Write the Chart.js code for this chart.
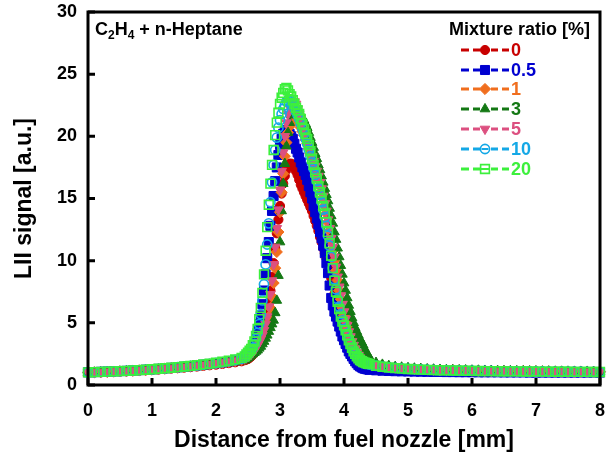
<!DOCTYPE html>
<html><head><meta charset="utf-8">
<script src="https://cdn.jsdelivr.net/npm/chart.js@4.4.0/dist/chart.umd.min.js"></script>
<style>html,body{margin:0;padding:0;background:#fff}#wrap{width:608px;height:457px}</style>
</head><body><div id="wrap"><canvas id="c" width="608" height="457"></canvas></div>
<script>
// Distance from fuel nozzle [mm]
const distanceMm = [
 0,0.1,0.2,0.3,0.4,0.5,0.6,0.7,0.8,0.9,1.0,1.1,1.2,1.3,1.4,1.5,1.6,1.7,1.8,1.9,2.0,2.1,2.2,2.3,2.4,
 2.45,2.475,
 2.5,2.525,2.55,2.575, 2.6,2.625,2.65,2.675, 2.7,2.725,2.75,2.775, 2.8,2.825,2.85,2.875, 2.9,2.925,2.95,2.975,
 3.0,3.025,3.05,3.075, 3.1,3.125,3.15,3.175, 3.2,3.225,3.25,3.275, 3.3,3.325,3.35,3.375, 3.4,3.425,3.45,3.475,
 3.5,3.525,3.55,3.575, 3.6,3.625,3.65,3.675, 3.7,3.725,3.75,3.775, 3.8,3.825,3.85,3.875, 3.9,3.925,3.95,3.975,
 4.0,4.025,4.05,4.075, 4.1,4.125,4.15,4.175, 4.2,4.225,4.25,4.275, 4.3,4.325,4.35,4.375,
 4.4,
 4.5,4.6,4.7,4.8,4.9,5.0,5.1,5.2,5.3,5.4,5.5,5.6,5.7,5.8,5.9,6.0,6.1,6.2,6.3,6.4,6.5,6.6,6.7,6.8,6.9,7.0,7.1,7.2,7.3,7.4,7.5,7.6,7.7,7.8,7.9,8.0];

const mixtureLabels = ["0","0.5","1","3","5","10","20"];

const lii_0 = [
 0.99,1.01,1.02,1.04,1.06,1.08,1.1,1.12,1.15,1.18,1.21,1.24,1.28,1.32,1.36,1.4,1.44,1.49,1.54,1.59,1.64,1.7,1.76,1.83,1.91,
 2.0,2.05,
 2.1,2.2,2.3,2.45, 2.6,2.8,3.0,3.3, 3.6,4.0,4.5,5.1, 5.8,6.6,7.6,8.7, 9.8,11.0,12.2,13.3,
 14.4,15.4,16.2,16.8, 17.3,17.6,17.8,17.8, 17.7,17.5,17.2,16.9, 16.5,16.1,15.8,15.5, 15.2,14.9,14.6,14.3,
 14.0,13.6,13.2,12.8, 12.4,11.9,11.5,11.0, 10.6,10.2,9.7,9.2, 8.6,8.0,7.3,6.6, 6.0,5.4,4.8,4.3,
 3.9,3.5,3.1,2.8, 2.5,2.3,2.1,1.95, 1.85,1.77,1.7,1.65, 1.6,1.57,1.55,1.52,
 1.5,
 1.42,1.38,1.35,1.32,1.3,1.28,1.26,1.24,1.22,1.21,1.2,1.19,1.18,1.17,1.16,1.15,1.14,1.13,1.13,1.12,1.12,1.11,1.11,1.1,1.1,1.09,1.09,1.08,1.08,1.08,1.07,1.07,1.07,1.06,1.06,1.06];
const lii_05 = [
 1.02,1.04,1.06,1.08,1.1,1.12,1.14,1.17,1.2,1.23,1.26,1.3,1.34,1.38,1.42,1.47,1.52,1.57,1.63,1.69,1.75,1.82,1.9,1.99,2.09,
 2.2,2.3,
 2.4,2.55,2.7,2.95, 3.2,3.7,4.2,4.9, 5.6,6.5,7.6,8.9, 10.2,11.5,12.8,14.0, 15.2,16.4,17.5,18.5,
 19.3,19.8,20.2,20.4, 20.5,20.4,20.2,20.0, 19.8,19.4,19.0,18.7, 18.3,17.9,17.5,17.2, 16.9,16.5,16.0,15.5,
 15.0,14.4,13.9,13.4, 12.9,12.3,11.8,11.2, 10.6,9.8,9.0,8.0, 7.0,6.4,5.9,5.5, 5.1,4.7,4.3,3.9,
 3.6,3.3,3.0,2.7, 2.5,2.3,2.1,1.9, 1.75,1.6,1.5,1.42, 1.35,1.31,1.28,1.25,
 1.22,
 1.18,1.15,1.13,1.11,1.1,1.09,1.08,1.07,1.06,1.05,1.05,1.04,1.04,1.03,1.03,1.03,1.02,1.02,1.02,1.02,1.01,1.01,1.01,1.01,1.0,1.0,1.0,1.0,1.0,1.0,1.0,1.0,1.0,1.0,1.0,1.0];
const lii_1 = [
 1.0,1.02,1.04,1.06,1.08,1.1,1.12,1.15,1.18,1.21,1.24,1.28,1.32,1.36,1.4,1.45,1.5,1.55,1.6,1.66,1.72,1.78,1.85,1.93,2.02,
 2.1,2.2,
 2.3,2.4,2.5,2.65, 2.8,2.95,3.1,3.3, 3.5,3.8,4.1,4.5, 4.9,5.5,6.2,7.1, 8.2,9.4,10.7,12.3,
 13.9,15.5,17.0,18.4, 19.5,20.3,20.8,21.1, 21.3,21.4,21.4,21.2, 21.0,20.7,20.4,20.1, 19.7,19.4,19.0,18.6,
 18.2,17.8,17.4,17.0, 16.5,16.0,15.5,15.0, 14.4,13.8,13.1,12.4, 11.6,10.8,10.0,9.2, 8.4,7.6,6.9,6.2,
 5.6,5.1,4.6,4.2, 3.8,3.4,3.1,2.8, 2.6,2.4,2.2,2.05, 1.95,1.87,1.8,1.75,
 1.7,
 1.58,1.5,1.44,1.39,1.35,1.32,1.29,1.27,1.25,1.23,1.21,1.2,1.19,1.18,1.17,1.16,1.15,1.14,1.13,1.13,1.12,1.12,1.11,1.11,1.1,1.1,1.09,1.09,1.08,1.08,1.08,1.07,1.07,1.07,1.06,1.06];
const lii_3 = [
 0.99,1.01,1.03,1.05,1.07,1.09,1.11,1.13,1.16,1.19,1.22,1.25,1.29,1.33,1.37,1.41,1.45,1.5,1.55,1.6,1.66,1.72,1.78,1.85,1.93,
 2.0,2.1,
 2.2,2.3,2.4,2.5, 2.6,2.7,2.8,2.95, 3.1,3.3,3.5,3.75, 4.0,4.3,4.6,4.9, 5.2,5.8,6.8,8.8,
 11.5,14.0,16.2,17.8, 19.2,20.3,21.1,21.7, 22.0,22.2,22.3,22.2, 22.0,21.8,21.5,21.3, 21.0,20.7,20.3,19.9,
 19.5,19.1,18.6,18.2, 17.7,17.3,16.8,16.3, 15.8,15.3,14.8,14.2, 13.6,13.0,12.3,11.7, 11.0,10.3,9.6,8.9,
 8.2,7.6,7.0,6.4, 5.9,5.4,5.0,4.6, 4.3,4.0,3.7,3.45, 3.2,2.9,2.6,2.4,
 2.2,
 1.8,1.65,1.55,1.47,1.42,1.38,1.34,1.31,1.28,1.26,1.24,1.22,1.21,1.2,1.19,1.18,1.17,1.16,1.15,1.14,1.13,1.13,1.12,1.12,1.11,1.11,1.1,1.1,1.09,1.09,1.09,1.08,1.08,1.08,1.07,1.07];
const lii_5 = [
 1.01,1.03,1.05,1.07,1.09,1.11,1.13,1.16,1.19,1.22,1.25,1.29,1.33,1.37,1.41,1.46,1.51,1.56,1.62,1.68,1.74,1.81,1.88,1.96,2.05,
 2.15,2.2,
 2.3,2.4,2.5,2.65, 2.8,3.0,3.2,3.45, 3.7,4.0,4.4,4.9, 5.5,6.3,7.3,8.4, 9.7,11.1,12.6,14.1,
 15.7,17.2,18.7,20.0, 21.1,21.8,22.3,22.6, 22.8,22.8,22.6,22.2, 21.8,21.4,21.0,20.5, 20.1,19.6,19.2,18.8,
 18.4,18.0,17.6,17.2, 16.8,16.3,15.8,15.2, 14.6,14.0,13.3,12.6, 11.8,11.1,10.3,9.5, 8.7,7.9,7.2,6.5,
 5.9,5.3,4.8,4.3, 3.9,3.5,3.2,2.9, 2.6,2.4,2.2,2.05, 1.95,1.87,1.8,1.75,
 1.7,
 1.6,1.52,1.46,1.41,1.37,1.33,1.3,1.28,1.26,1.24,1.22,1.21,1.2,1.19,1.18,1.17,1.16,1.15,1.14,1.13,1.13,1.12,1.12,1.11,1.11,1.1,1.1,1.09,1.09,1.09,1.08,1.08,1.08,1.07,1.07,1.07];
const lii_10 = [
 1.02,1.04,1.06,1.08,1.1,1.12,1.14,1.17,1.2,1.23,1.26,1.3,1.34,1.38,1.43,1.48,1.53,1.58,1.64,1.7,1.77,1.84,1.92,2.01,2.12,
 2.25,2.35,
 2.5,2.65,2.8,3.0, 3.3,3.7,4.2,4.9, 5.7,6.8,8.1,9.7, 11.3,13.0,14.7,16.3, 17.7,18.9,19.9,20.7,
 21.3,21.8,22.2,22.5, 22.8,22.9,23.0,22.8, 22.6,22.3,22.0,21.7, 21.4,21.0,20.6,20.2, 19.8,19.4,18.9,18.4,
 17.9,17.4,16.9,16.4, 15.8,15.3,14.7,14.1, 13.5,12.8,12.0,11.2, 10.3,9.4,8.5,7.7, 6.9,6.3,5.7,5.2,
 4.8,4.4,4.0,3.6, 3.3,3.0,2.7,2.5, 2.3,2.15,2.0,1.92, 1.85,1.8,1.75,1.7,
 1.65,
 1.55,1.47,1.41,1.37,1.33,1.3,1.27,1.25,1.23,1.21,1.2,1.19,1.18,1.17,1.16,1.15,1.14,1.13,1.13,1.12,1.12,1.11,1.11,1.1,1.1,1.09,1.09,1.08,1.08,1.08,1.07,1.07,1.07,1.06,1.06,1.06];
const lii_20 = [
 1.02,1.04,1.06,1.08,1.1,1.12,1.14,1.17,1.2,1.23,1.27,1.31,1.35,1.39,1.44,1.49,1.54,1.6,1.66,1.72,1.8,1.88,1.96,2.06,2.18,
 2.3,2.45,
 2.6,2.75,2.9,3.2, 3.5,3.95,4.5,5.3, 6.2,7.4,8.9,10.8, 12.7,14.5,16.2,17.7, 18.9,20.1,21.1,21.9,
 22.6,23.1,23.5,23.8, 23.9,23.7,23.4,23.2, 22.9,22.6,22.3,22.1, 21.8,21.4,21.0,20.6, 20.2,19.8,19.3,18.8,
 18.2,17.7,17.1,16.6, 16.0,15.5,15.0,14.4, 13.8,13.1,12.3,11.4, 10.4,9.4,8.4,7.5, 6.7,6.1,5.5,5.1,
 4.8,4.4,4.0,3.6, 3.3,3.0,2.7,2.5, 2.3,2.15,2.0,1.92, 1.85,1.8,1.75,1.71,
 1.68,
 1.55,1.47,1.41,1.36,1.32,1.29,1.26,1.24,1.22,1.2,1.19,1.18,1.17,1.16,1.15,1.14,1.13,1.12,1.12,1.11,1.11,1.1,1.1,1.09,1.09,1.08,1.08,1.08,1.07,1.07,1.07,1.06,1.06,1.06,1.05,1.05];

const xTicks = [0,1,2,3,4,5,6,7,8];
const yTicks = [0,5,10,15,20,25,30];

const FONT = "'Liberation Sans', Arial, sans-serif";
Chart.defaults.font.family = FONT;
Chart.defaults.font.weight = 'bold';
Chart.defaults.color = '#000';

const styles = [
 {color:'#c80000', fill:'#c80000', style:'circle', r:4.6, rot:0, bw:1},
 {color:'#0000d0', fill:'#0000d0', style:'rect', r:6.4, rot:0, bw:1},
 {color:'#f06e1e', fill:'#f06e1e', style:'rectRot', r:5.6, rot:0, bw:1},
 {color:'#147814', fill:'#147814', style:'triangle', r:5.6, rot:0, bw:1},
 {color:'#dc5080', fill:'#dc5080', style:'triangle', r:5.6, rot:180, bw:1},
 {color:'#14a8e6', fill:'rgba(0,0,0,0)', style:'circle', r:4.6, rot:0, bw:1.6},
 {color:'#3cf03c', fill:'rgba(0,0,0,0)', style:'rect', r:6.2, rot:0, bw:1.6}
];
const seriesValues = [lii_0, lii_05, lii_1, lii_3, lii_5, lii_10, lii_20];

const datasets = seriesValues.map((vals, k) => ({
  label: mixtureLabels[k],
  data: distanceMm.map((x, i) => ({x: x, y: vals[i]})),
  showLine: false,
  pointStyle: styles[k].style,
  pointRadius: styles[k].r,
  pointRotation: styles[k].rot,
  pointBackgroundColor: styles[k].fill,
  pointBorderColor: styles[k].color,
  pointBorderWidth: styles[k].bw,
  borderColor: styles[k].color,
  backgroundColor: styles[k].fill,
  order: 6 - k,
  clip: false
}));

function markerPath(ctx, style, x, y, r, rot) {
  ctx.beginPath();
  if (style === 'circle') {
    ctx.arc(x, y, r, 0, Math.PI * 2);
  } else if (style === 'rect') {
    const s = Math.SQRT1_2 * r;
    ctx.rect(x - s, y - s, 2 * s, 2 * s);
  } else if (style === 'rectRot') {
    ctx.moveTo(x, y - r); ctx.lineTo(x + r, y); ctx.lineTo(x, y + r); ctx.lineTo(x - r, y); ctx.closePath();
  } else if (style === 'triangle') {
    const sgn = rot === 180 ? -1 : 1;
    ctx.moveTo(x, y - sgn * r);
    ctx.lineTo(x + 0.866 * r, y + sgn * 0.5 * r);
    ctx.lineTo(x - 0.866 * r, y + sgn * 0.5 * r);
    ctx.closePath();
  }
}

function drawFrame(chart) {
  const ctx = chart.ctx;
  const a = chart.chartArea;
  const sx = chart.scales.x, sy = chart.scales.y;
  ctx.save();
  ctx.setLineDash([]);
  ctx.strokeStyle = '#000000';
  ctx.lineWidth = 3;
  ctx.beginPath();
  ctx.moveTo(a.left, a.top); ctx.lineTo(a.right, a.top); ctx.lineTo(a.right, a.bottom);
  ctx.lineTo(a.left, a.bottom); ctx.closePath();
  ctx.stroke();
  ctx.beginPath();
  xTicks.forEach(v => {
    const px = sx.getPixelForValue(v);
    ctx.moveTo(px, a.bottom); ctx.lineTo(px, a.bottom - 7);
  });
  yTicks.forEach(v => {
    const py = sy.getPixelForValue(v);
    ctx.moveTo(a.left, py); ctx.lineTo(a.left + 7, py);
  });
  ctx.stroke();
  ctx.restore();
}

const framePlugin = {
  id: 'liiFrame',
  afterDraw(chart) {
    drawFrame(chart);
    const ctx = chart.ctx;
    ctx.save();
    ctx.fillStyle = '#000';
    ctx.textBaseline = 'alphabetic';
    ctx.textAlign = 'left';
    const big = "bold 18px " + FONT, small = "bold 12px " + FONT;
    let x = 95; const base = 35;
    const parts = [["C", big, 0], ["2", small, 4], ["H", big, 0], ["4", small, 4], [" + n-Heptane", big, 0]];
    parts.forEach(p => { ctx.font = p[1]; ctx.fillText(p[0], x, base + p[2]); x += ctx.measureText(p[0]).width; });
    ctx.font = "bold 18px " + FONT;
    ctx.textAlign = 'right';
    ctx.textBaseline = 'middle';
    ctx.fillText("Mixture ratio [%]", 590, 30);
    const rowsY = [50, 70, 89, 109, 129, 149, 169];
    const dashes = [[461, 469], [473, 480], [491, 498], [502, 509]];
    styles.forEach((s, k) => {
      const y = rowsY[k];
      ctx.strokeStyle = s.color;
      ctx.lineWidth = 3;
      ctx.beginPath();
      dashes.forEach(d => { ctx.moveTo(d[0], y); ctx.lineTo(d[1], y); });
      ctx.stroke();
      markerPath(ctx, s.style, 485, y, s.r, s.rot);
      const hollow = s.fill === 'rgba(0,0,0,0)';
      ctx.fillStyle = hollow ? '#fff' : s.fill;
      ctx.fill();
      ctx.lineWidth = s.bw; ctx.strokeStyle = s.color; ctx.stroke();
      if (hollow) { ctx.lineWidth = 2; ctx.beginPath(); ctx.moveTo(485 - s.r * 0.75, y); ctx.lineTo(485 + s.r * 0.75, y); ctx.stroke(); }
      ctx.font = "bold 18px " + FONT;
      ctx.textAlign = 'left';
      ctx.fillStyle = s.color;
      ctx.fillText(mixtureLabels[k], 511, y + 1);
    });
    ctx.restore();
  }
};

new Chart(document.getElementById('c'), {
  type: 'scatter',
  data: { datasets },
  options: {
    responsive: false,
    animation: false,
    events: [],
    layout: { padding: { top: 12, right: 8, left: 0, bottom: 0 } },
    plugins: { legend: { display: false }, tooltip: { enabled: false } },
    scales: {
      x: {
        type: 'linear', min: 0, max: 8,
        afterFit: s => { s.height = 72; s.paddingLeft = 0; s.paddingRight = 0; },
        afterBuildTicks: s => { s.ticks = xTicks.map(v => ({value: v})); },
        grid: { display: false, drawTicks: false },
        border: { display: false },
        ticks: { font: { size: 18, weight: 'bold' }, color: '#000', padding: 15, maxRotation: 0 },
        title: { display: true, text: 'Distance from fuel nozzle [mm]', font: { size: 23, weight: 'bold' }, color: '#000', padding: { top: 0, bottom: 3 } }
      },
      y: {
        type: 'linear', min: 0, max: 30,
        afterFit: s => { s.width = 88; s.paddingTop = 0; s.paddingBottom = 0; },
        afterBuildTicks: s => { s.ticks = yTicks.map(v => ({value: v})); },
        grid: { display: false, drawTicks: false },
        border: { display: false },
        ticks: { font: { size: 18, weight: 'bold' }, color: '#000', padding: 11 },
        title: { display: true, text: 'LII signal [a.u.]', font: { size: 23, weight: 'bold' }, color: '#000', padding: { top: 11, bottom: 0 } }
      }
    }
  },
  plugins: [framePlugin]
});
</script>
</body></html>
